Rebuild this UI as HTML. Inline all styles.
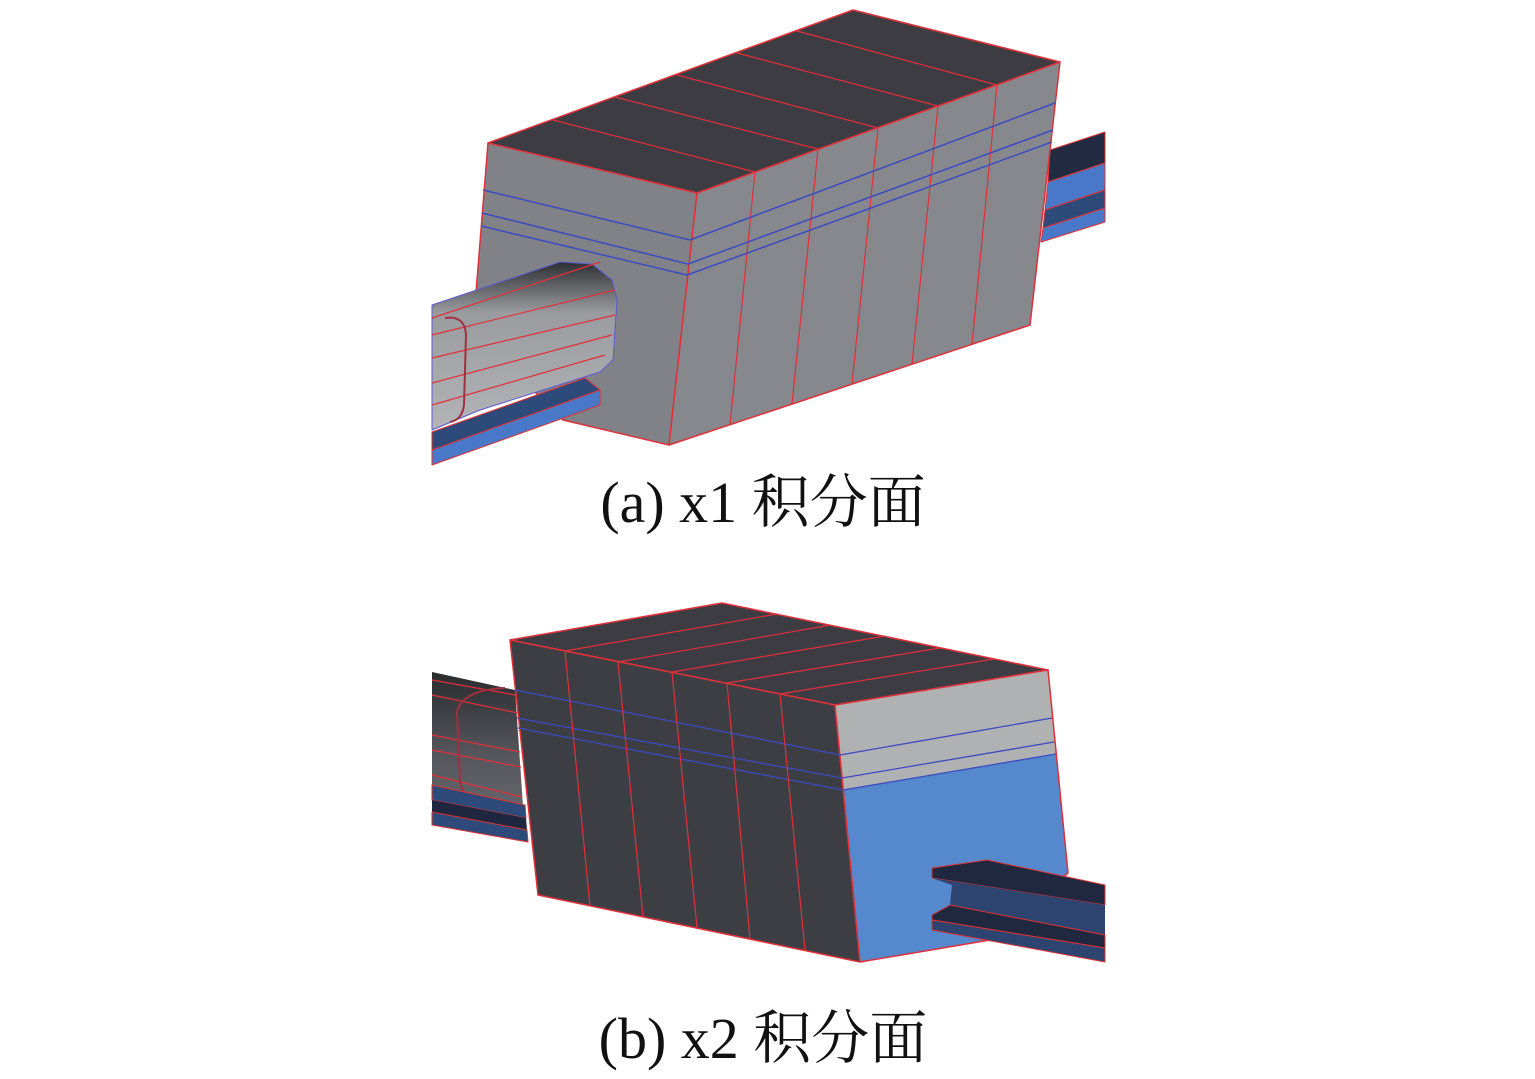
<!DOCTYPE html>
<html><head><meta charset="utf-8"><style>
html,body{margin:0;padding:0;background:#fff;}
svg{display:block}
</style></head><body>
<svg width="1535" height="1079" viewBox="0 0 1535 1079" xmlns="http://www.w3.org/2000/svg">
<defs>
<linearGradient id="tg" x1="0" y1="0" x2="0" y2="1">
<stop offset="0" stop-color="#2e2f33"/><stop offset="0.3" stop-color="#9a9b9f"/><stop offset="1" stop-color="#b3b4b7"/>
</linearGradient>
<linearGradient id="tg2" x1="0" y1="0" x2="0" y2="1">
<stop offset="0" stop-color="#2a2b2f"/><stop offset="0.5" stop-color="#55565b"/><stop offset="1" stop-color="#6c6d72"/>
</linearGradient>
</defs>
<g stroke-linejoin="round">
<!-- (a) right rail -->
<polygon points="1050,150 1105,132 1105,163 1048,182" fill="#232b42" stroke="#d33" stroke-width="1"/>
<polygon points="1048,182 1105,163 1105,190 1045,210" fill="#4a78c8" stroke="#d33" stroke-width="1"/>
<polygon points="1045,210 1105,190 1105,208 1043,228" fill="#2e4a7a" stroke="#d33" stroke-width="1"/>
<polygon points="1043,228 1105,208 1105,222 1041,242" fill="#4a78c8" stroke="#d33" stroke-width="1"/>
<!-- (a) box -->
<polygon points="488,143 853,10 1060,62 697,193" fill="#3c3c42" stroke="#e0303a" stroke-width="1.5"/>
<polygon points="488,143 697,193 669,445 563,420 473,330" fill="#808287" stroke="#e0303a" stroke-width="1.5"/>
<polygon points="697,193 1060,62 1030,325 669,445" fill="#86888d" stroke="#e0303a" stroke-width="1.5"/>
<g stroke="#e0303a" stroke-width="1.2">
<line x1="755" y1="172" x2="730" y2="425"/><line x1="818" y1="149" x2="792" y2="404"/>
<line x1="878" y1="128" x2="852" y2="384"/><line x1="938" y1="106" x2="912" y2="364"/>
<line x1="997" y1="85" x2="972" y2="344"/>
<line x1="755" y1="172" x2="553" y2="120"/><line x1="818" y1="149" x2="615" y2="97"/>
<line x1="878" y1="128" x2="677" y2="75"/><line x1="938" y1="106" x2="737" y2="53"/>
<line x1="997" y1="85" x2="797" y2="31"/>
</g>
<g stroke="#3b4bc0" stroke-width="1.5" fill="none">
<polyline points="483,190 690,240 1055,103"/>
<polyline points="482,213 688,264 1053,130"/>
<polyline points="481,226 687,275 1052,142"/>
</g>
<!-- (a) tunnel -->
<polygon points="432,305 560,262 592,264 612,280 617,300 613,360 600,372 480,410 432,430" fill="url(#tg)" stroke="#5a5ad0" stroke-width="1"/>
<g stroke="#e0303a" stroke-width="1.2">
<line x1="432" y1="318" x2="600" y2="262"/><line x1="432" y1="335" x2="615" y2="290"/>
<line x1="432" y1="358" x2="615" y2="315"/><line x1="432" y1="383" x2="612" y2="335"/>
<line x1="432" y1="405" x2="605" y2="355"/>
</g>
<path d="M445,318 Q465,315 466,335 L464,405 Q462,420 450,422" fill="none" stroke="#a03040" stroke-width="2"/>
<polygon points="432,432 585,378 600,390 432,450" fill="#2e4a7a" stroke="#d33" stroke-width="1"/>
<polygon points="432,450 600,390 600,405 432,465" fill="#4a78c8" stroke="#d33" stroke-width="1"/>

<!-- (b) left tunnel -->
<polygon points="432,672 515,690 525,835 432,825" fill="url(#tg2)"/>
<g stroke="#e0303a" stroke-width="1.2">
<line x1="432" y1="680" x2="515" y2="695"/><line x1="432" y1="695" x2="518" y2="713"/>
<line x1="432" y1="735" x2="520" y2="752"/><line x1="432" y1="750" x2="521" y2="767"/>
<line x1="432" y1="775" x2="522" y2="797"/>
</g>
<path d="M505,688 Q462,690 457,712 L460,780 Q462,795 470,795" fill="none" stroke="#a03040" stroke-width="2"/>
<polygon points="432,785 525,805 526,818 432,800" fill="#2e4a7a" stroke="#d33" stroke-width="1"/>
<polygon points="432,800 526,818 527,830 432,812" fill="#1f2740"/>
<polygon points="432,812 527,830 528,842 432,825" fill="#2e4a7a" stroke="#d33" stroke-width="1"/>
<!-- (b) box -->
<polygon points="510,640 722,603 1048,670 835,705" fill="#3c3c42" stroke="#e0303a" stroke-width="1.5"/>
<polygon points="510,640 835,705 860,962 538,895" fill="#3d3e43" stroke="#e0303a" stroke-width="1.5"/>
<polygon points="835,705 1048,670 1056,754 843,790" fill="#b0b1b3"/>
<polygon points="843,790 1056,754 1068,873 990,940 860,962" fill="#5588cc"/>
<polygon points="835,705 1048,670 1068,873 990,940 860,962" fill="none" stroke="#e0303a" stroke-width="1.5"/>
<g stroke="#3b4bc0" stroke-width="1.3" fill="none">
<polyline points="515,690 840,755 1052,718"/>
<polyline points="517,718 842,778 1054,742"/>
<polyline points="518,728 843,790 1056,754"/>
</g>
<g stroke="#e0303a" stroke-width="1.2">
<line x1="565" y1="651" x2="590" y2="906"/><line x1="618" y1="662" x2="643" y2="917"/>
<line x1="672" y1="672" x2="697" y2="928"/><line x1="727" y1="683" x2="750" y2="939"/>
<line x1="780" y1="694" x2="805" y2="950"/>
<line x1="565" y1="651" x2="777" y2="614"/><line x1="618" y1="662" x2="831" y2="625"/>
<line x1="672" y1="672" x2="885" y2="636"/><line x1="727" y1="683" x2="940" y2="648"/>
<line x1="780" y1="694" x2="994" y2="659"/>
</g>
<!-- (b) right I-beam -->
<polygon points="932,868 987,860 1105,885 1105,905 932,878" fill="#202840" stroke="#d33" stroke-width="1"/>
<polygon points="932,878 1105,905 1105,935 950,905 952,885" fill="#2e4470"/>
<polygon points="932,915 950,905 1105,935 1105,948 932,920" fill="#202840" stroke="#d33" stroke-width="1"/>
<polygon points="932,920 1105,948 1105,962 932,930" fill="#2e4470" stroke="#d33" stroke-width="1"/>
</g>
<g font-family="'Liberation Serif','Noto Serif CJK SC',serif" font-size="58" fill="#111" text-anchor="middle">
<text x="763" y="522">(a) x1 积分面</text>
<text x="763" y="1058">(b) x2 积分面</text>
</g>
</svg>
</body></html>
